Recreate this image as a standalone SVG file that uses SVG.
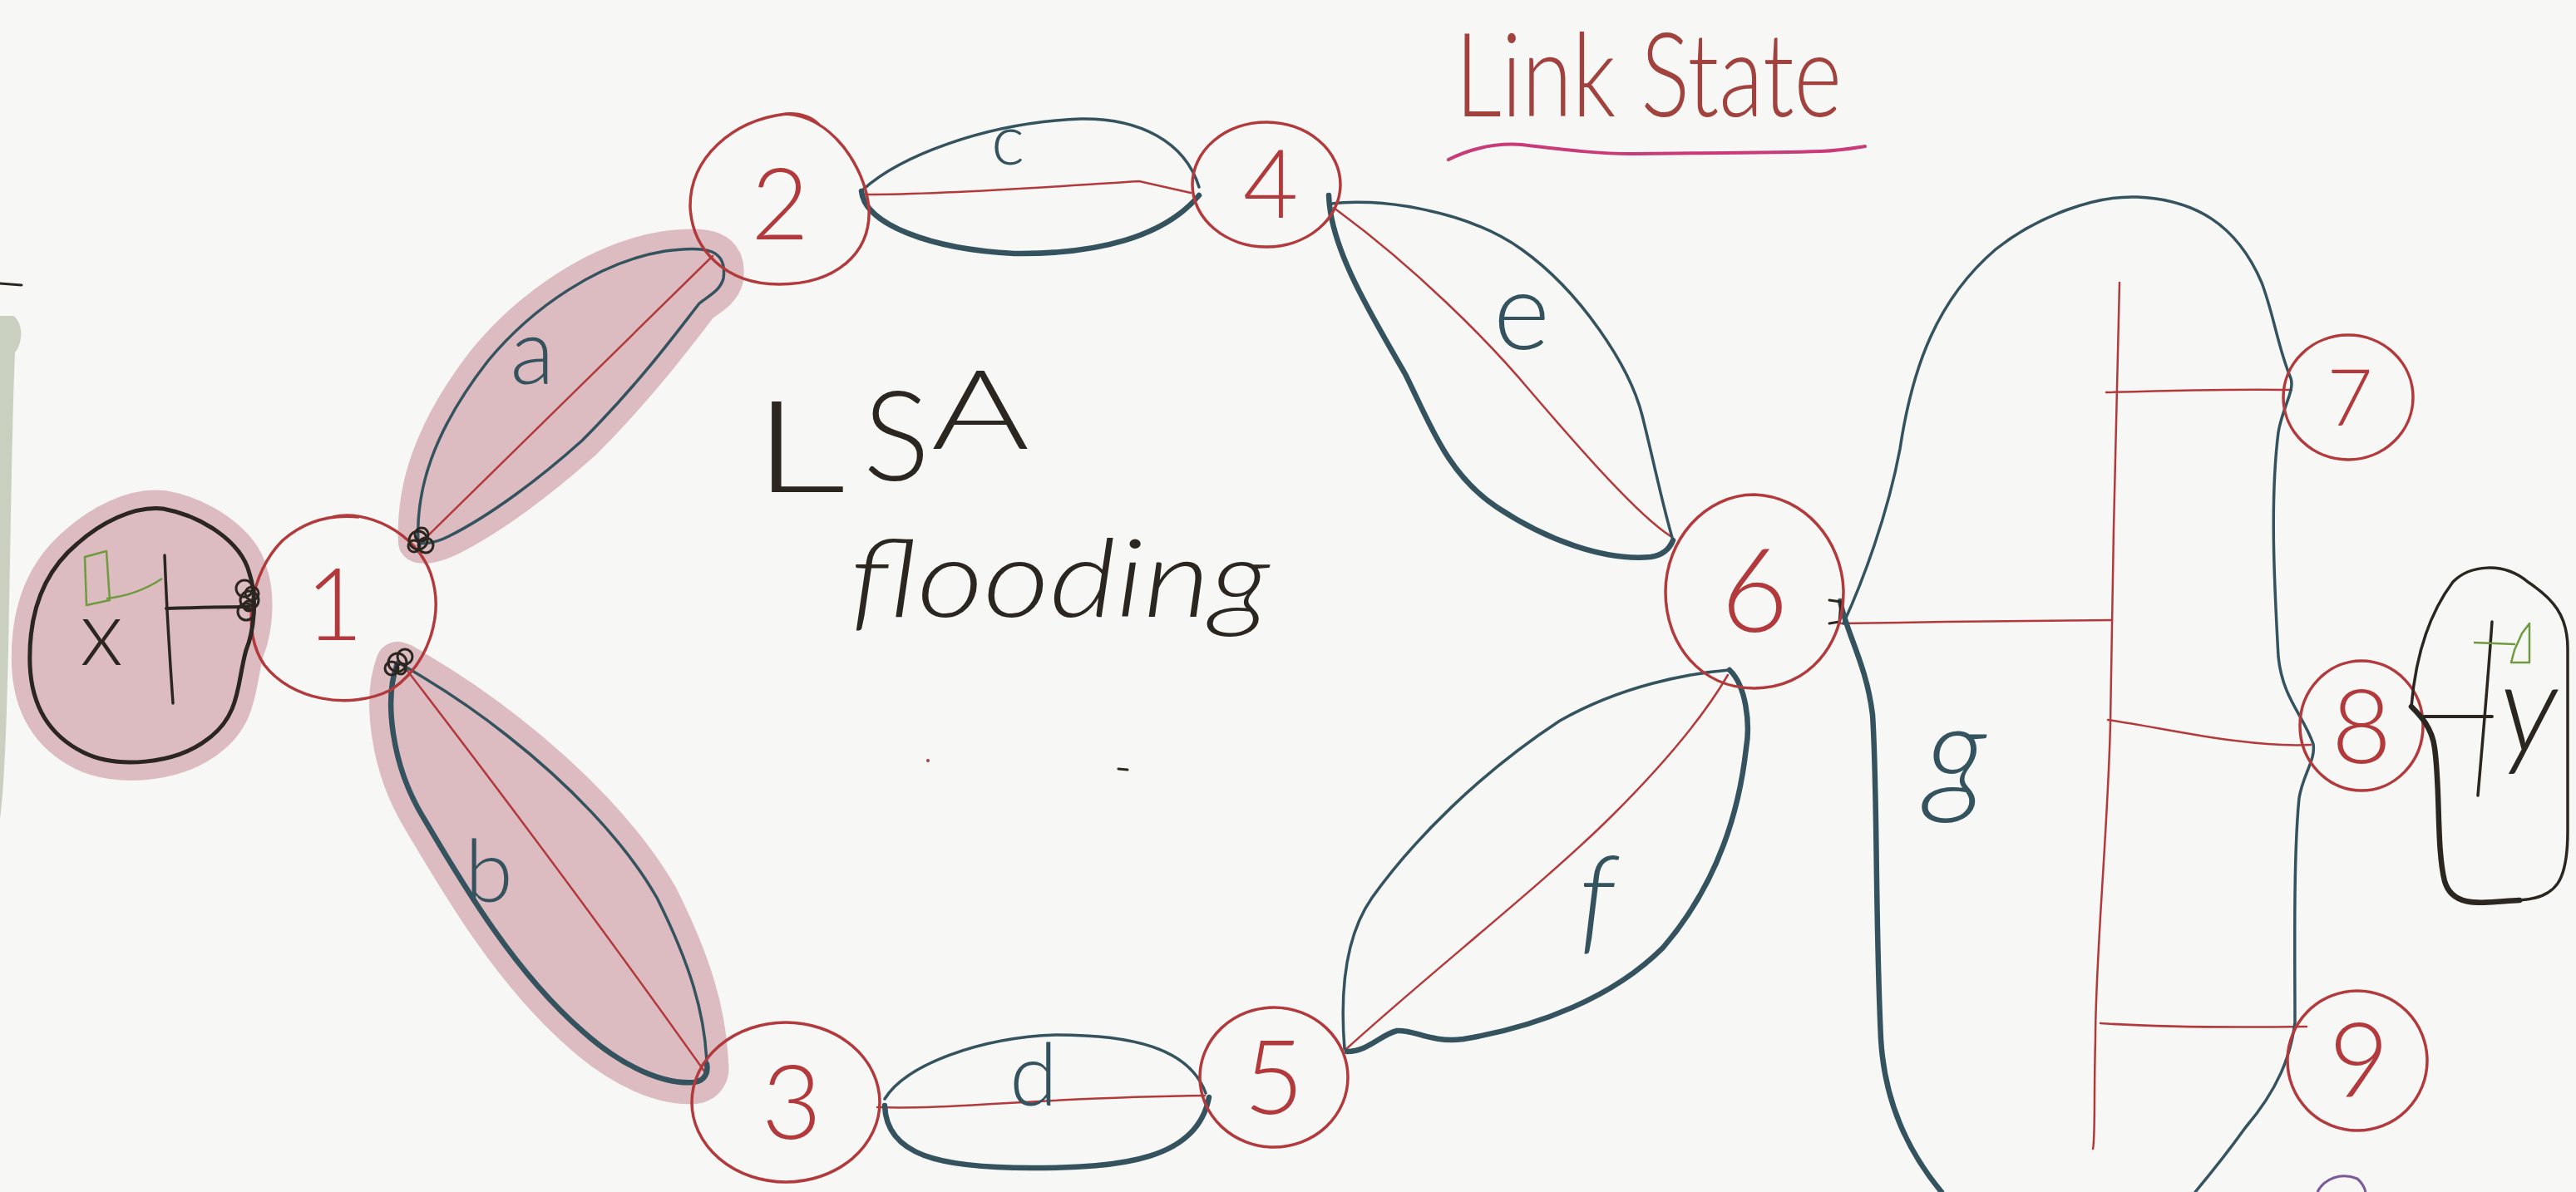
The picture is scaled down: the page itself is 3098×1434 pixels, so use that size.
<svg xmlns="http://www.w3.org/2000/svg" width="3098" height="1434" viewBox="0 0 3098 1434">
  <style>
    .node { fill: none; stroke: #b23a3c; stroke-width: 3.5; }
    .num { font-family: Lato, "Open Sans", "Liberation Sans", sans-serif; font-weight: 300; fill: #b23a3c; text-anchor: middle; }
    .edge { fill: none; stroke: #34535f; stroke-linecap: round; stroke-linejoin: round; }
    .thin { stroke-width: 3.5; }
    .thick { stroke-width: 6.5; }
    .wire { fill: none; stroke: #b23a3c; stroke-width: 2.5; stroke-linecap: round; }
    .hl { fill: #dcbcc1; stroke: #dcbcc1; stroke-linejoin: round; }
    .elbl { font-family: Lato, "Open Sans", "Liberation Sans", sans-serif; font-weight: 300; fill: #34535f; text-anchor: middle; }
    .ink { fill: none; stroke: #2b2620; stroke-linecap: round; stroke-linejoin: round; }
    .flag { fill: none; stroke: #6f9a3f; stroke-width: 2.5; stroke-linejoin: round; }
    .hand { font-family: Lato, "Open Sans", "Liberation Sans", sans-serif; }
  </style>

  <rect width="3098" height="1434" fill="#f7f7f5"/>

  <!-- margin marks at the left edge -->
  <path d="M0 380 L16 380 C28 388 28 412 18 424 C14 520 12 700 10 780 C8 870 5 950 0 985 Z" fill="#c9d0bf"/>
  <path d="M0 341 L26 343" class="ink" stroke-width="3"/>

  <!-- highlighter behind host x and links a, b -->
  <g id="highlights">
    <path class="hl" stroke-width="44" d="M196 612 C240 620 290 650 300 690 C310 720 305 760 296 782 C285 820 290 860 250 889 C210 920 140 925 100 905 C60 885 38 850 36 800 C34 740 50 690 93 654 C120 630 160 608 196 612 Z"/>
    <path class="hl" stroke-width="48" d="M503 652 C500 590 520 520 587 434 C640 370 720 315 800 302 C850 295 875 300 870 335 C866 350 852 356 841 365 C815 398 770 460 700 530 C650 575 590 620 540 645 C520 655 505 655 503 652 Z"/>
    <path class="hl" stroke-width="52" d="M478 798 C462 840 470 920 510 985 C560 1070 620 1170 700 1240 C750 1285 800 1305 835 1302 C848 1300 852 1290 850 1280 C848 1220 830 1160 790 1080 C750 1010 680 940 610 885 C560 845 510 815 484 800 Z"/>
  </g>

  <!-- links: each is a lens around its red wire -->
  <g id="connectors">
    <g id="link-a">
      <path class="wire" d="M507 652 L857 308"/>
      <path class="edge thin" d="M503 652 C500 590 520 520 587 434 C640 370 720 315 800 302 C850 295 875 300 870 335 C866 350 852 356 841 365 C815 398 770 460 700 530 C650 575 590 620 540 645 C520 655 505 655 503 652"/>
      <text class="elbl" x="640" y="462" font-size="110">a</text>
    </g>
    <g id="link-b">
      <path class="wire" d="M487 803 C600 950 720 1110 848 1290"/>
      <path class="edge thick" d="M478 798 C462 840 470 920 510 985 C560 1070 620 1170 700 1240 C750 1285 800 1305 835 1302 C848 1300 852 1290 850 1280"/>
      <path class="edge thin" d="M850 1280 C848 1220 830 1160 790 1080 C750 1010 680 940 610 885 C560 845 510 815 484 800"/>
      <text class="elbl" x="588" y="1085" font-size="105">b</text>
    </g>
    <g id="link-c">
      <path class="wire" d="M1041 234 C1150 234 1300 222 1370 218 L1432 232"/>
      <path class="edge thin" d="M1038 228 C1080 190 1180 148 1300 143 C1370 142 1425 170 1442 225"/>
      <path class="edge thick" d="M1036 230 C1040 270 1120 300 1220 305 C1320 306 1400 285 1442 235"/>
      <text class="elbl" x="1212" y="198" font-size="85">c</text>
    </g>
    <g id="link-d">
      <path class="wire" d="M1055 1332 C1150 1335 1250 1320 1449 1318"/>
      <path class="edge thin" d="M1064 1322 C1090 1280 1180 1248 1270 1245 C1360 1245 1430 1260 1450 1315"/>
      <path class="edge thick" d="M1064 1330 C1066 1390 1130 1405 1240 1405 C1350 1405 1440 1395 1454 1320"/>
      <text class="elbl" x="1243" y="1330" font-size="105">d</text>
    </g>
    <g id="link-e">
      <path class="wire" d="M1604 250 C1700 320 1790 410 1840 470 C1900 540 1970 620 2009 645"/>
      <path class="edge thin" d="M1602 245 C1650 238 1760 250 1830 300 C1900 350 1960 440 1975 500 C1990 560 2000 610 2012 650"/>
      <path class="edge thick" d="M1598 235 C1600 300 1650 380 1690 450 C1720 510 1740 570 1800 610 C1860 650 1930 675 1985 670 C2000 668 2008 660 2012 650"/>
      <text class="elbl" x="1830" y="420" font-size="130">e</text>
    </g>
    <g id="link-f">
      <path class="wire" d="M1619 1262 C1720 1170 1860 1060 1940 980 C2000 920 2050 860 2078 812"/>
      <path class="edge thin" d="M1617 1262 C1612 1200 1615 1130 1650 1080 C1700 1010 1780 930 1876 867 C1950 825 2030 810 2080 806"/>
      <path class="edge thick" d="M2080 806 C2100 825 2105 870 2100 900 C2090 990 2060 1070 2000 1140 C1940 1200 1850 1235 1760 1250 C1720 1255 1700 1238 1680 1240 C1660 1245 1645 1265 1620 1265"/>
      <text class="elbl" x="1920" y="1130" font-size="140" font-style="italic">f</text>
    </g>
    <g id="link-g">
      <path class="wire" d="M2214 750 C2320 748 2450 747 2540 746"/>
      <path class="wire" d="M2549 340 C2545 500 2540 700 2538 870 C2535 1000 2520 1150 2520 1250 C2518 1320 2520 1370 2517 1382"/>
      <path class="wire" d="M2533 472 C2600 470 2700 468 2756 469"/>
      <path class="wire" d="M2535 866 C2600 875 2700 900 2779 896"/>
      <path class="wire" d="M2526 1231 C2600 1236 2700 1236 2774 1235"/>
      <path class="edge thin" d="M2217 750 C2240 700 2270 620 2285 540 C2300 440 2330 360 2400 300 C2450 260 2520 235 2570 237 C2640 240 2690 270 2720 340 C2735 380 2740 420 2755 455 C2760 470 2745 490 2740 520 C2730 600 2735 700 2740 790 C2745 840 2770 860 2782 895 C2785 915 2770 930 2765 960 C2758 1030 2760 1150 2760 1230 C2755 1270 2740 1310 2700 1357 C2680 1385 2660 1410 2640 1434"/>
      <path class="edge thick" d="M2213 723 C2220 760 2245 800 2252 860 C2258 950 2255 1100 2262 1250 C2266 1320 2290 1380 2335 1434"/>
      <path class="ink" stroke-width="3" d="M2200 722 L2214 724 L2212 748 L2200 750"/>
      <text class="elbl" x="2352" y="960" font-size="160" font-style="italic">g</text>
    </g>
    <!-- host x attachment -->
    <path class="ink" stroke-width="4" d="M200 732 C230 731 270 730 300 730"/>
    <!-- host y attachment -->
    <path class="ink" stroke-width="4" d="M2912 862 L2997 862"/>
  </g>

  <!-- routers -->
  <g id="node-1">
    <path class="node" d="M400 622 C440 612 500 640 518 690 C535 740 515 800 470 830 C420 855 350 842 318 800 C290 760 300 690 340 650 C365 628 395 618 432 622"/>
    <text class="num" x="402" y="770" font-size="120">1</text>
  </g>
  <g id="node-2">
    <path class="node" d="M945 137 C1000 140 1040 200 1045 250 C1048 305 1005 342 937 342 C872 342 832 300 830 248 C830 190 880 145 945 137 C960 136 975 140 985 150"/>
    <text class="num" x="938" y="288" font-size="120">2</text>
  </g>
  <g id="node-3">
    <ellipse class="node" cx="945" cy="1326" rx="113" ry="96"/>
    <text class="num" x="952" y="1370" font-size="125">3</text>
  </g>
  <g id="node-4">
    <ellipse class="node" cx="1523" cy="222" rx="89" ry="75"/>
    <text class="num" x="1528" y="262" font-size="115">4</text>
  </g>
  <g id="node-5">
    <ellipse class="node" cx="1532" cy="1296" rx="89" ry="84"/>
    <text class="num" x="1532" y="1340" font-size="125">5</text>
  </g>
  <g id="node-6">
    <path class="node" d="M2110 595 C2170 597 2215 650 2217 710 C2218 775 2175 828 2110 828 C2045 828 2003 775 2003 712 C2003 650 2050 595 2110 595 Z"/>
    <text class="num" x="2110" y="760" font-size="140">6</text>
  </g>
  <g id="node-7">
    <ellipse class="node" cx="2824" cy="478" rx="78" ry="75"/>
    <text class="num" x="2826" y="512" font-size="95">7</text>
  </g>
  <g id="node-8">
    <ellipse class="node" cx="2840" cy="873" rx="74" ry="78"/>
    <text class="num" x="2840" y="918" font-size="125">8</text>
  </g>
  <g id="node-9">
    <ellipse class="node" cx="2835" cy="1276" rx="84" ry="84"/>
    <text class="num" x="2837" y="1320" font-size="125">9</text>
  </g>

  <!-- host x -->
  <g id="host-x">
    <path class="ink" stroke-width="5" d="M196 612 C240 620 290 650 300 690 C310 720 305 760 296 782 C285 820 290 860 250 889 C210 920 140 925 100 905 C60 885 38 850 36 800 C34 740 50 690 93 654 C120 630 160 608 196 612 Z"/>
    <path class="ink" stroke-width="3.5" d="M198 668 C200 720 204 790 208 846"/>
    <path class="flag" d="M132 722 L128 663 L102 670 L104 728 Z M128 720 Q165 716 195 696"/>
    <text x="122" y="800" font-size="110" class="hand" font-weight="300" fill="#2b2620" text-anchor="middle">x</text>
    <g class="ink" stroke-width="3">
      <circle cx="294" cy="708" r="10"/><circle cx="300" cy="722" r="11"/><circle cx="296" cy="736" r="10"/><circle cx="303" cy="714" r="8"/><circle cx="299" cy="729" r="6"/>
    </g>
  </g>
  <g id="knots" class="ink" stroke-width="3">
    <circle cx="503" cy="650" r="11"/><circle cx="512" cy="656" r="9"/><circle cx="507" cy="643" r="8"/><circle cx="498" cy="657" r="7"/>
    <circle cx="478" cy="797" r="11"/><circle cx="487" cy="790" r="9"/><circle cx="471" cy="804" r="8"/><circle cx="482" cy="805" r="6"/>
  </g>

  <!-- host y -->
  <g id="host-y">
    <path class="ink" stroke-width="3.5" d="M2900 850 C2905 790 2920 740 2950 700 C2970 680 3010 675 3040 700 C3070 720 3088 740 3088 780 L3088 1000 C3088 1060 3075 1080 3030 1083"/>
    <path class="ink" stroke-width="6.5" d="M3030 1083 C2990 1085 2950 1095 2940 1060 C2930 1020 2935 950 2928 900 C2925 875 2910 860 2900 850"/>
    <path class="ink" stroke-width="3.5" d="M2997 748 C2992 820 2985 900 2980 957"/>
    <path class="flag" d="M2975 773 L3025 775 M3020 797 L3042 797 L3042 750 L3033 762 L3024 782 Z"/>
    <text x="3006" y="905" font-size="150" class="hand" font-weight="300" fill="#2b2620" font-style="italic">y</text>
  </g>

  <!-- headings -->
  <g id="title">
    <text x="1750" y="140" font-size="140" class="hand" font-weight="300" fill="#a2423f" textLength="465" lengthAdjust="spacingAndGlyphs">Link State</text>
    <path d="M1742 192 C1770 178 1800 172 1830 174 C1880 180 1930 186 1970 185 C2050 184 2130 184 2190 182 C2215 181 2230 178 2243 176" fill="none" stroke="#c93a78" stroke-width="4" stroke-linecap="round"/>
  </g>
  <g id="caption">
    <text class="hand" font-weight="300" fill="#2b2620"><tspan x="905" y="592" font-size="155" textLength="112" lengthAdjust="spacingAndGlyphs">L</tspan><tspan x="1038" y="578" font-size="150">S</tspan><tspan x="1120" y="540" font-size="132" textLength="118" lengthAdjust="spacingAndGlyphs">A</tspan></text>
    <text x="1022" y="742" class="hand" font-weight="300" fill="#2b2620" font-size="130" font-style="italic" textLength="505" lengthAdjust="spacingAndGlyphs">flooding</text>
  </g>

  <!-- stray pen marks -->
  <circle cx="1116" cy="915" r="2" fill="#b23a3c"/>
  <path d="M1345 925 L1356 926" class="ink" stroke-width="3"/>
  <path d="M2787 1434 C2795 1418 2815 1410 2835 1418 C2842 1424 2844 1430 2845 1434" fill="none" stroke="#7a5a9a" stroke-width="3"/>
</svg>
